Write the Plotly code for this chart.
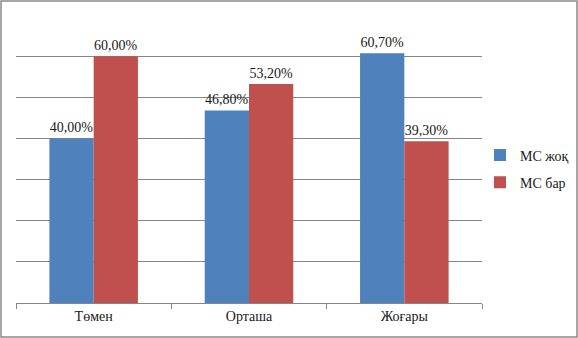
import plotly.graph_objects as go

categories = ["Төмен", "Орташа", "Жоғары"]
series_names = ["МС жоқ", "МС бар"]
ms_zhok = [40.0, 46.8, 60.7]
ms_bar = [60.0, 53.2, 39.3]
colors = ["#4F81BD", "#C0504D"]

W, H = 578, 338
L, R, T, B = 16, 96, 15, 35
pw, ph = W - L - R, H - T - B
FONT = "'Liberation Serif', 'Times New Roman', serif"

def lbl(v):
    return f"{v:.2f}%".replace(".", ",")

fig = go.Figure()
for i, (name, vals) in enumerate(zip(series_names, [ms_zhok, ms_bar])):
    fig.add_trace(go.Bar(
        x=categories, y=vals, name=name,
        marker=dict(color=colors[i], line=dict(width=0)),
        text=[lbl(v) for v in vals], textposition="outside",
        constraintext="none", cliponaxis=False,
        textfont=dict(family=FONT, size=14, color="#1a1a1a"),
        legendgroup=name,
    ))

fig.update_layout(
    width=W, height=H,
    margin=dict(l=L, r=R, t=T, b=B, pad=0, autoexpand=False),
    paper_bgcolor="white", plot_bgcolor="white",
    barmode="group", bargap=0.43, bargroupgap=0,
    font=dict(family=FONT, size=14, color="#1a1a1a"),
    showlegend=True,
    legend=dict(x=(480 - L) / pw, xanchor="left", y=(H - B - 169) / ph, yanchor="middle",
                font=dict(family=FONT, size=14, color="#1a1a1a"),
                traceorder="grouped", tracegroupgap=6,
                bgcolor="rgba(0,0,0,0)", itemwidth=30),
    xaxis=dict(showgrid=False, showline=True, linecolor="#868686", linewidth=1,
               ticks="outside", tickson="boundaries", ticklen=5, tickcolor="#868686",
               tickfont=dict(family=FONT, size=14, color="#1a1a1a"), automargin=False),
    yaxis=dict(range=[0, 70], dtick=10, showgrid=True, gridcolor="#868686", gridwidth=1,
               showticklabels=False, zeroline=False, showline=False, ticks="", automargin=False),
    shapes=[dict(type="rect", xref="paper", yref="paper",
                 x0=-(L - 1) / pw, x1=1 + (R - 1) / pw,
                 y0=-(B - 1) / ph, y1=1 + (T - 1) / ph,
                 line=dict(color="#898989", width=1.5), fillcolor="rgba(0,0,0,0)", layer="below")],
)

fig.write_html("out.html", config={"displayModeBar": False},
               post_script="document.body.style.margin='0';document.body.style.overflow='hidden';")
